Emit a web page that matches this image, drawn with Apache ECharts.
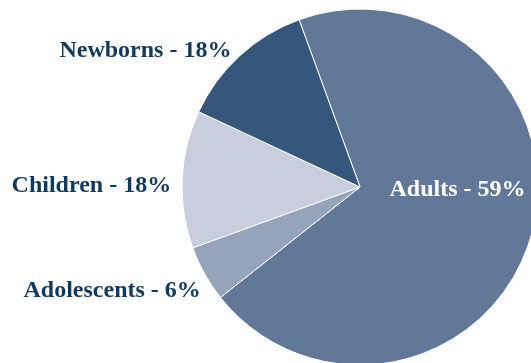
<!DOCTYPE html>
<html><head><meta charset="utf-8">
<script src="https://cdn.jsdelivr.net/npm/echarts@6/dist/echarts.min.js"></script>
<style>html,body{margin:0;padding:0;background:#fff}#c{width:531px;height:363px}</style>
</head><body><div id="c"></div>
<script>
// slice names, visual shares and printed labels
var categories = ['Adults', 'Adolescents', 'Children', 'Newborns'];
var values = [69.9, 5.1, 12.5, 12.5];
var labelTexts = ['Adults - 59%', 'Adolescents - 6%', 'Children - 18%', 'Newborns - 18%'];
var colors = ['#627899', '#95a3bb', '#c8cedd', '#34577b'];

var chart = echarts.init(document.getElementById('c'), null, {renderer: 'canvas'});
var data = categories.map(function (c, i) {
  var d = {name: c, value: values[i], itemStyle: {color: colors[i]}};
  if (i === 0) {
    d.label = {position: 'inside', color: '#ffffff'};
  }
  return d;
});
var nudges = [[9, -22], [7, 16], [0, 7], [2, -3]];
chart.setOption({
  animation: false,
  series: [{
    type: 'pie',
    center: [360, 187],
    radius: [0, 178],
    startAngle: 110,
    clockwise: true,
    avoidLabelOverlap: false,
    data: data,
    itemStyle: {borderColor: '#ffffff', borderWidth: 1},
    label: {
      show: true,
      position: 'outside',
      formatter: function (p) { return labelTexts[p.dataIndex]; },
      fontFamily: '"Liberation Serif", "Times New Roman", serif',
      fontWeight: 'bold',
      fontSize: 24,
      color: '#123a5d'
    },
    labelLine: {show: false, length: 2, length2: 4},
    labelLayout: function (p) {
      var n = nudges[p.dataIndex];
      return {dx: n[0], dy: n[1]};
    }
  }]
});
</script></body></html>
